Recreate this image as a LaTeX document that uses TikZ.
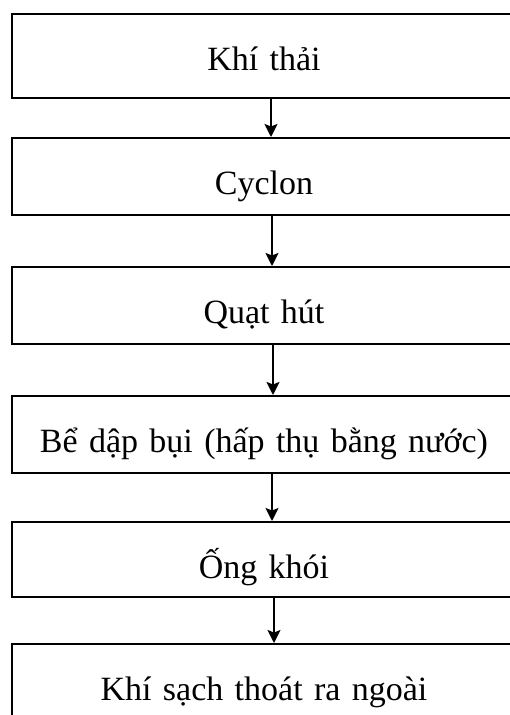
\documentclass[tikz,border=0pt]{standalone}
\usepackage{fontspec}
\setmainfont{Liberation Serif}
\usetikzlibrary{arrows.meta}

\tikzset{
  stagebox/.style={draw=black, line width=1.5pt, anchor=north,
    inner xsep=0pt, inner ysep=0pt, text width=504pt, align=center,
    font=\fontsize{34}{40}\selectfont, text height=56.5pt},
  flowarrow/.style={line width=2pt,
    -{Stealth[length=13pt, width=13pt, inset=2.5pt]}}
}

\begin{document}
\begin{tikzpicture}[x=1pt, y=-1pt]
  \useasboundingbox (0,0) rectangle (509,715);

  % process stages, top to bottom
  \node[stagebox, text depth=27.5pt] (b1) at (264,13)  {Khí thải};
  \node[stagebox, text depth=20.5pt] (b2) at (264,137) {Cyclon};
  \node[stagebox, text depth=20.5pt] (b3) at (264,266) {Quạt hút};
  \node[stagebox, text depth=20.5pt] (b4) at (264,395) {Bể dập bụi (hấp thụ bằng nước)};
  \node[stagebox, text depth=18.5pt] (b5) at (264,521) {Ống khói};
  \node[stagebox, text depth=23.5pt] (b6) at (264,643) {Khí sạch thoát ra ngoài};

  % flow between stages
  \draw[flowarrow] ([xshift=7pt]b1.south) -- ([xshift=7pt]b2.north);
  \draw[flowarrow] ([xshift=8pt]b2.south) -- ([xshift=8pt]b3.north);
  \draw[flowarrow] ([xshift=9pt]b3.south) -- ([xshift=9pt]b4.north);
  \draw[flowarrow] ([xshift=8pt]b4.south) -- ([xshift=8pt]b5.north);
  \draw[flowarrow] ([xshift=10pt]b5.south) -- ([xshift=10pt]b6.north);
\end{tikzpicture}
\end{document}
